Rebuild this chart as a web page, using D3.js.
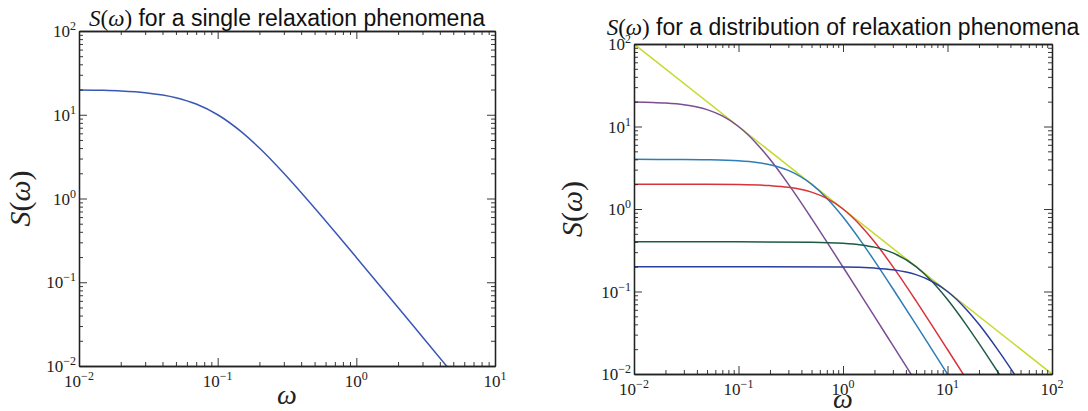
<!DOCTYPE html>
<html><head><meta charset="utf-8">
<script src="https://cdn.jsdelivr.net/npm/d3@7"></script>
<style>body{margin:0;background:#fff}</style>
</head><body>
<svg id="c" width="1088" height="411"></svg>
<script>
// ---- data ----
const singleOmega = [0.01,0.015,0.02,0.03,0.05,0.07,0.1,0.15,0.2,0.3,0.5,0.7,1,1.5,2,3,5];
const singleS     = [19.8,19.56,19.23,18.35,16.0,13.42,10,6.154,4.0,2.0,0.769,0.4,0.198,0.0885,0.0499,0.0222,0.0080];

const envOmega = [0.01,100];
const envS     = [100,0.01];

const purpleOmega = [0.01,0.015,0.02,0.03,0.05,0.07,0.1,0.15,0.2,0.3,0.5,0.7,1,1.5,2,3,5];
const purpleS     = [19.8,19.56,19.23,18.35,16.0,13.42,10,6.154,4.0,2.0,0.769,0.4,0.198,0.0885,0.0499,0.0222,0.0080];

const lblueOmega = [0.01,0.03,0.05,0.1,0.15,0.2,0.3,0.5,0.7,1,1.5,2,3,5,7,10,15];
const lblueS     = [3.998,3.986,3.96,3.846,3.67,3.448,2.941,2.0,1.351,0.8,0.4,0.235,0.108,0.0396,0.0203,0.00998,0.00444];

const redOmega = [0.01,0.05,0.1,0.2,0.3,0.5,0.7,1,1.5,2,3,5,7,10,15];
const redS     = [2.0,1.995,1.98,1.923,1.835,1.6,1.342,1.0,0.615,0.4,0.2,0.0769,0.04,0.0198,0.00885];

const greenOmega = [0.01,0.1,0.5,1,1.5,2,3,5,7,10,15,20,30,50];
const greenS     = [0.4,0.3998,0.396,0.3846,0.367,0.345,0.294,0.2,0.135,0.08,0.04,0.0235,0.0108,0.00396];

const dblueOmega = [0.01,1,2,3,5,7,10,15,20,30,50];
const dblueS     = [0.2,0.198,0.1923,0.1835,0.16,0.134,0.1,0.0615,0.04,0.02,0.00769];

const leftXTicks  = [0.01,0.1,1,10];
const leftXLabels = ["−2","−1","0","1"];
const rightXTicks  = [0.01,0.1,1,10,100];
const rightXLabels = ["−2","−1","0","1","2"];
const yTicks  = [0.01,0.1,1,10,100];
const yLabels = ["−2","−1","0","1","2"];

const svg = d3.select("#c");

function zip(a,b){ return a.map((v,i)=>[v,b[i]]); }

function panel(cfg){
  const x = d3.scaleLog().domain(cfg.xdom).range([cfg.x0,cfg.x1]);
  const y = d3.scaleLog().domain(cfg.ydom).range([cfg.y1,cfg.y0]);
  const g = svg.append("g");
  const cid = "clip"+cfg.id;
  svg.append("clipPath").attr("id",cid).append("rect")
    .attr("x",cfg.x0).attr("y",cfg.y0).attr("width",cfg.x1-cfg.x0).attr("height",cfg.y1-cfg.y0);

  const line = d3.line().x(d=>x(d[0])).y(d=>y(d[1])).curve(d3.curveMonotoneX);
  const lg = g.append("g").attr("clip-path",`url(#${cid})`);
  cfg.series.forEach(s=>{
    lg.append("path").attr("d",line(zip(s.w,s.s)))
      .attr("fill","none").attr("stroke",s.color).attr("stroke-width",1.5);
  });

  // minor ticks
  const minorsX = [], minorsY = [];
  for(let e=Math.log10(cfg.xdom[0]); e<Math.log10(cfg.xdom[1]); e++)
    for(let k=2;k<10;k++) minorsX.push(k*Math.pow(10,e));
  for(let e=Math.log10(cfg.ydom[0]); e<Math.log10(cfg.ydom[1]); e++)
    for(let k=2;k<10;k++) minorsY.push(k*Math.pow(10,e));

  const col = "#222";
  function ax(gen, tx, ty, vals, size){
    const a = g.append("g").attr("transform",`translate(${tx},${ty})`)
      .call(gen.tickValues(vals).tickSize(size).tickSizeOuter(0).tickFormat(""));
    a.select(".domain").attr("stroke",col).attr("stroke-width",1.3);
    a.selectAll(".tick line").attr("stroke",col).attr("stroke-width",0.9);
    return a;
  }
  [[cfg.xMajor,-8],[minorsX,-4]].forEach(([v,s])=>{
    ax(d3.axisBottom(x),0,cfg.y1,v,s);
    ax(d3.axisTop(x),0,cfg.y0,v,s);
  });
  [[yTicks,-8],[minorsY,-4]].forEach(([v,s])=>{
    ax(d3.axisLeft(y),cfg.x0,0,v,s);
    ax(d3.axisRight(y),cfg.x1,0,v,s);
  });

  // tick labels
  const serif = "'Liberation Serif', 'DejaVu Serif', serif";
  cfg.xMajor.forEach((v,i)=>{
    const t = g.append("text").attr("x",x(v)).attr("y",cfg.y1+21)
      .attr("text-anchor","middle").attr("font-family",serif).attr("font-size",17).attr("fill","#222");
    t.append("tspan").text("10");
    t.append("tspan").attr("font-size",12).attr("dy",-7).text(cfg.xLab[i]);
  });
  yTicks.forEach((v,i)=>{
    const t = g.append("text").attr("x",cfg.x0-3).attr("y",y(v)+6)
      .attr("text-anchor","end").attr("font-family",serif).attr("font-size",17).attr("fill","#222");
    t.append("tspan").text("10");
    t.append("tspan").attr("font-size",12).attr("dy",-7).text(yLabels[i]);
  });

  // axis labels
  const cx = (cfg.x0+cfg.x1)/2, cy=(cfg.y0+cfg.y1)/2;
  g.append("text").attr("x",cx).attr("y",cfg.y1+cfg.wly).attr("text-anchor","middle")
    .attr("font-family",serif).attr("font-style","italic").attr("font-size",28).attr("fill","#222").text("ω");
  const yl = g.append("text").attr("transform",`translate(${cfg.ylx},${cy}) rotate(-90)`)
    .attr("text-anchor","middle").attr("font-family",serif).attr("font-size",30).attr("fill","#222");
  yl.append("tspan").attr("font-style","italic").text("S");
  yl.append("tspan").text("(");
  yl.append("tspan").attr("font-style","italic").text("ω");
  yl.append("tspan").text(")");

  // title
  const tt = g.append("text").attr("x",cx+cfg.tdx).attr("y",cfg.y0-cfg.tdy).attr("text-anchor","middle")
    .attr("font-size",23).attr("fill","#111");
  tt.append("tspan").attr("font-family",serif).attr("font-style","italic").text("S");
  tt.append("tspan").attr("font-family",serif).text("(");
  tt.append("tspan").attr("font-family",serif).attr("font-style","italic").text("ω");
  tt.append("tspan").attr("font-family",serif).text(")");
  tt.append("tspan").attr("font-family","'Liberation Sans', Arial, sans-serif").text(" "+cfg.title);
}

panel({id:"L", x0:79, x1:495, y0:31, y1:366, xdom:[0.01,10], ydom:[0.01,100],
  xMajor:leftXTicks, xLab:leftXLabels, ylx:30, tdx:0, tdy:5, wly:38,
  title:"for a single relaxation phenomena",
  series:[{w:singleOmega, s:singleS, color:"#3a57b6"}]});

panel({id:"R", x0:634, x1:1052, y0:44, y1:374, xdom:[0.01,100], ydom:[0.01,100],
  xMajor:rightXTicks, xLab:rightXLabels, ylx:582, tdx:0, tdy:9, wly:34,
  title:"for a distribution of relaxation phenomena",
  series:[
    {w:envOmega, s:envS, color:"#c6d92c"},
    {w:purpleOmega, s:purpleS, color:"#7a4e92"},
    {w:lblueOmega, s:lblueS, color:"#2e7db6"},
    {w:redOmega, s:redS, color:"#d8333b"},
    {w:greenOmega, s:greenS, color:"#1f5b44"},
    {w:dblueOmega, s:dblueS, color:"#2b3d9e"}
  ]});
</script>
</body></html>
